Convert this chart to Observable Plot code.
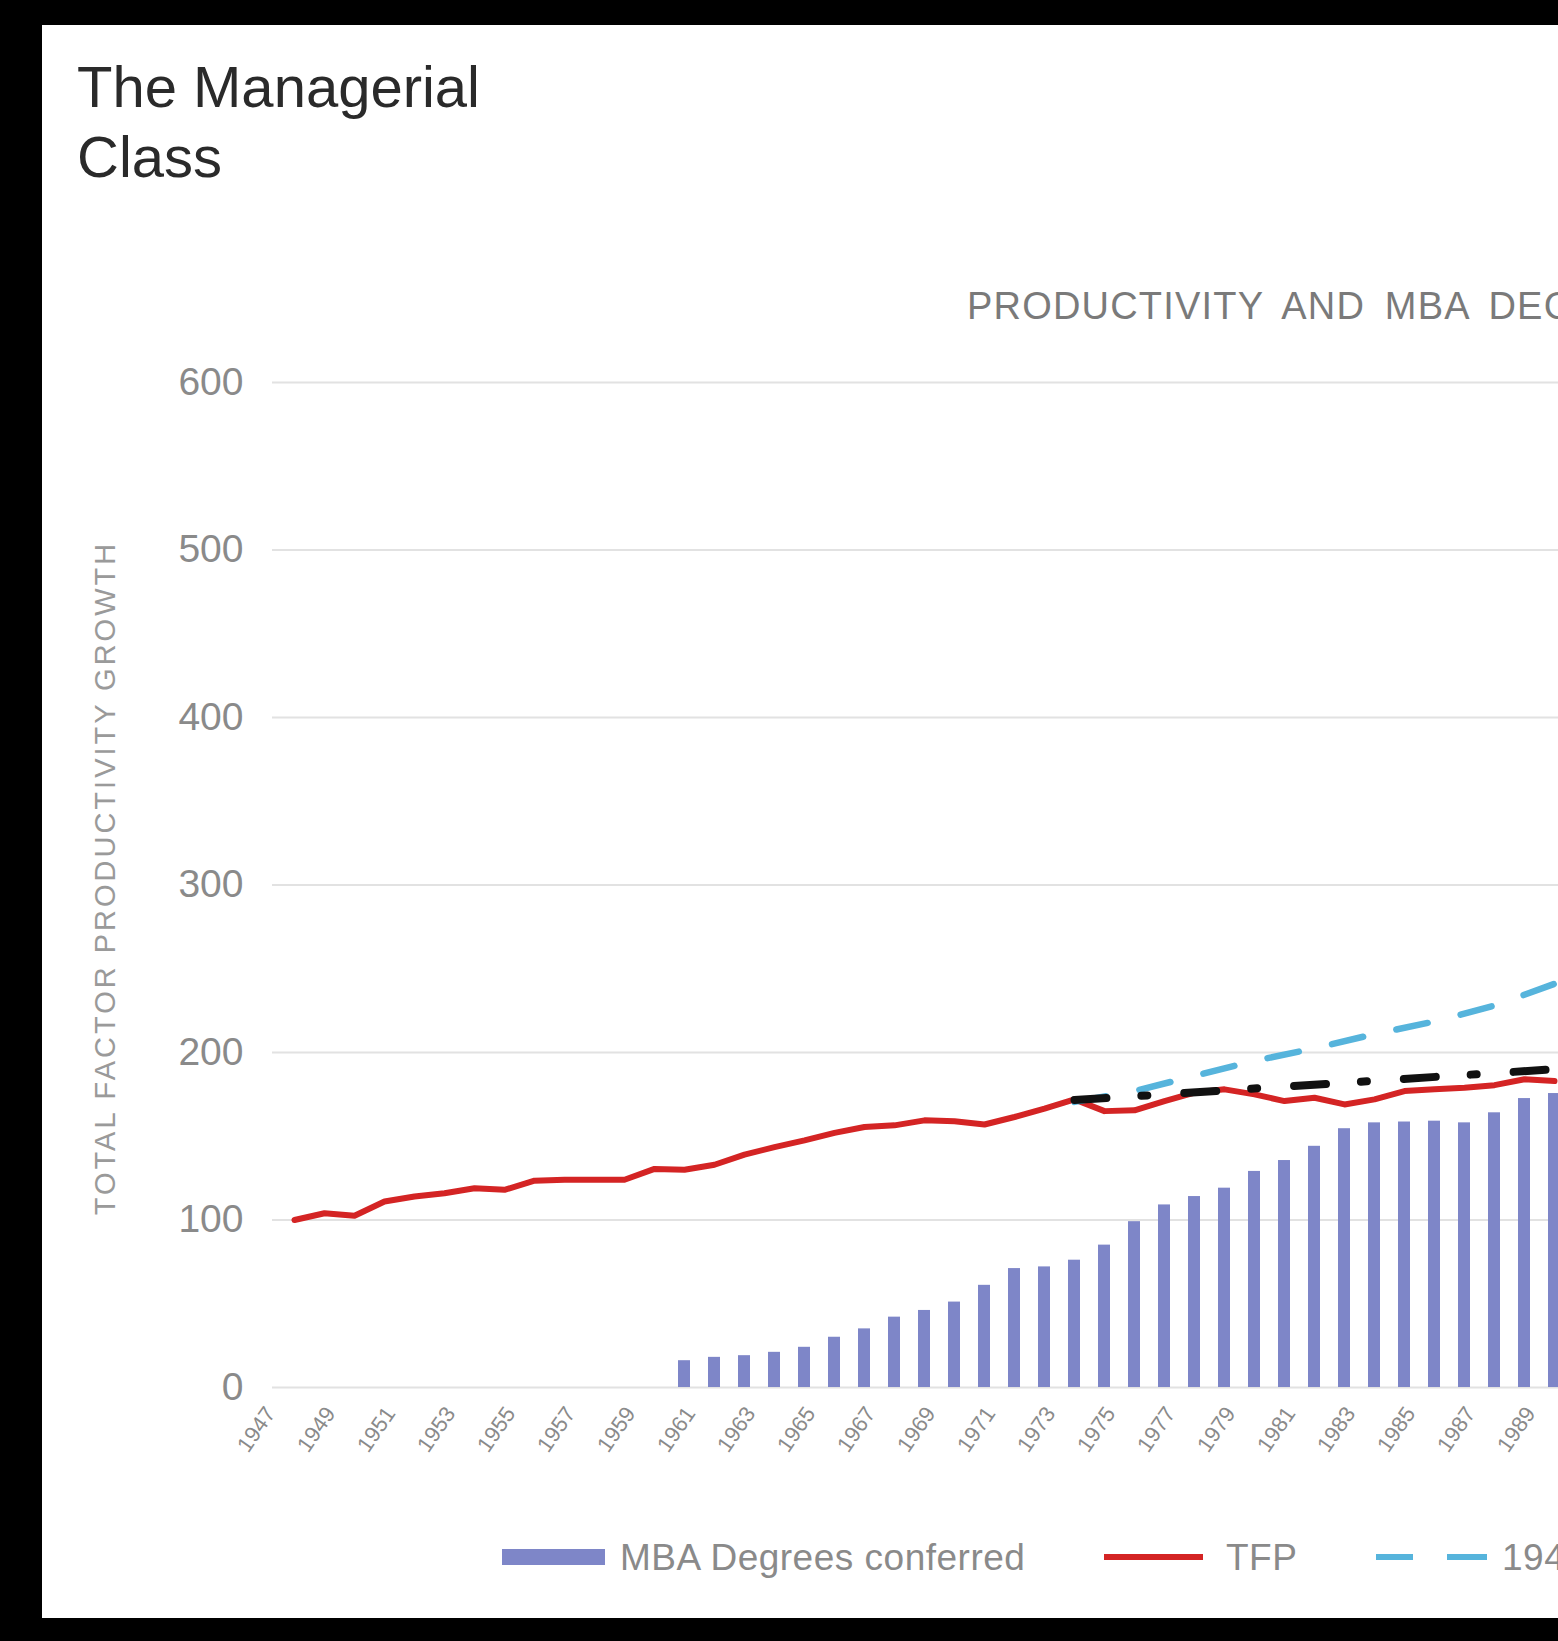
<!DOCTYPE html>
<html><head><meta charset="utf-8">
<script src="https://cdn.jsdelivr.net/npm/d3@7"></script>
<script src="https://cdn.jsdelivr.net/npm/@observablehq/plot@0.6"></script>
<style>
html,body{margin:0;padding:0;background:#000;width:1558px;height:1641px;overflow:hidden;}
#frame{position:absolute;left:42px;top:25px;width:1516px;height:1593px;background:#fff;overflow:hidden;font-family:"Liberation Sans",Arial,sans-serif;}
#title{position:absolute;left:35px;top:27px;font-size:58px;line-height:70px;color:#2a2a2a;white-space:nowrap;}
#subtitle{position:absolute;left:925px;top:262px;font-size:38px;line-height:38px;color:#7a7a7a;white-space:nowrap;word-spacing:8px;letter-spacing:1.2px;}
#ytitle{position:absolute;left:63px;top:853px;font-size:29px;line-height:29px;color:#9a9a9a;white-space:nowrap;letter-spacing:3px;transform:translate(-50%,-50%) rotate(-90deg);}
#chart{position:absolute;left:0;top:0;}
#chart svg{max-width:none !important;}
.lg{position:absolute;}
.lgt{position:absolute;top:1514px;font-size:37px;line-height:37px;color:#8a8a8a;white-space:nowrap;letter-spacing:0.5px;}
</style></head>
<body>
<div id="frame">
  <div id="title">The Managerial<br>Class</div>
  <div id="subtitle">PRODUCTIVITY AND MBA DEGREES</div>
  <div id="ytitle">TOTAL FACTOR PRODUCTIVITY GROWTH</div>
  <div id="chart"></div>
  <div class="lg" style="left:460px;top:1524px;width:103px;height:16px;background:#7e86c8"></div>
  <div class="lgt" style="left:578px">MBA Degrees conferred</div>
  <div class="lg" style="left:1062px;top:1529px;width:99px;height:6px;background:#d42424"></div>
  <div class="lgt" style="left:1184px">TFP</div>
  <div class="lg" style="left:1334px;top:1529px;width:37px;height:6px;background:#56b4dc"></div>
  <div class="lg" style="left:1405px;top:1529px;width:40px;height:6px;background:#56b4dc"></div>
  <div class="lgt" style="left:1460px">1947-1973 trend</div>
</div>
<script>
// Categories (years) on the x axis
const years = [1947,1948,1949,1950,1951,1952,1953,1954,1955,1956,1957,1958,1959,1960,1961,1962,1963,1964,1965,1966,1967,1968,1969,1970,1971,1972,1973,1974,1975,1976,1977,1978,1979,1980,1981,1982,1983,1984,1985,1986,1987,1988,1989,1990];
const tickYears = [1947,1949,1951,1953,1955,1957,1959,1961,1963,1965,1967,1969,1971,1973,1975,1977,1979,1981,1983,1985,1987,1989];
const yTicks = [0,100,200,300,400,500,600];

// TFP series (index, 1947 = 100)
const tfpYears = [1947,1948,1949,1950,1951,1952,1953,1954,1955,1956,1957,1958,1959,1960,1961,1962,1963,1964,1965,1966,1967,1968,1969,1970,1971,1972,1973,1974,1975,1976,1977,1978,1979,1980,1981,1982,1983,1984,1985,1986,1987,1988,1989];
const tfpValues = [100,104,102.5,111,114,116,119,118,123.5,124,124,124,130.5,130,133,139,143.5,147.5,152,155.5,156.5,159.5,159,157,161.5,166.5,172,165,165.5,171,176,178,175,171,173,169,172,177,178,179,180.5,184,183];

// MBA degrees conferred
const mbaYears = [1960,1961,1962,1963,1964,1965,1966,1967,1968,1969,1970,1971,1972,1973,1974,1975,1976,1977,1978,1979,1980,1981,1982,1983,1984,1985,1986,1987,1988,1989];
const mbaValues = [16,18,19,21,24,30,35,42,46,51,61,71,72,76,85,99,109,114,119,129,135.5,144,154.5,158,158.5,159,158,164,172.5,175.5];

// 1947-1973 trend extended
const trendYears = [1973,1975,1977,1979,1981,1983,1985,1987,1989];
const trendValues = [170.5,177,186,195,202.5,211,218.5,228,241];

// post-1973 trend (black dash-dot)
const postYears = [1973,1989];
const postValues = [171.6,190];

const tfp = tfpYears.map((year, i) => ({year, value: tfpValues[i]}));
const mba = mbaYears.map((year, i) => ({year, value: mbaValues[i]}));
const trend = trendYears.map((year, i) => ({year, value: trendValues[i]}));
const post = postYears.map((year, i) => ({year, value: postValues[i]}));

const chart = Plot.plot({
  width: 1565,
  height: 1460,
  marginLeft: 230,
  marginRight: 0,
  marginTop: 357,
  marginBottom: 98,
  style: {fontFamily: "'Liberation Sans', Arial, sans-serif", background: "transparent", overflow: "visible", maxWidth: "none"},
  x: {type: "band", domain: years, paddingInner: 0.59, paddingOuter: 0.295, axis: null},
  y: {domain: [0, 600], axis: null},
  marks: [
    Plot.ruleY(yTicks, {stroke: "#e2e2e2", strokeWidth: 2}),
    Plot.axisY({ticks: yTicks, tickSize: 0, tickPadding: 29, fontSize: 39, color: "#8a8a8a", label: null}),
    Plot.axisX({ticks: tickYears, tickSize: 0, tickRotate: -55, tickPadding: 22, dx: -24, fontSize: 22, color: "#8a8a8a", label: null, tickFormat: d => String(d)}),
    Plot.barY(mba, {x: "year", y: "value", fill: "#7e86c8"}),
    Plot.line(tfp, {x: "year", y: "value", stroke: "#d42424", strokeWidth: 6, curve: "linear"}),
    Plot.line(trend, {x: "year", y: "value", stroke: "#56b4dc", strokeWidth: 6.5, strokeDasharray: "32,34", curve: "linear"}),
    Plot.line(post, {x: "year", y: "value", stroke: "#111", strokeWidth: 8, strokeDasharray: "32,35,6,37"})
  ]
});
document.getElementById("chart").appendChild(chart);
</script>
</body></html>
